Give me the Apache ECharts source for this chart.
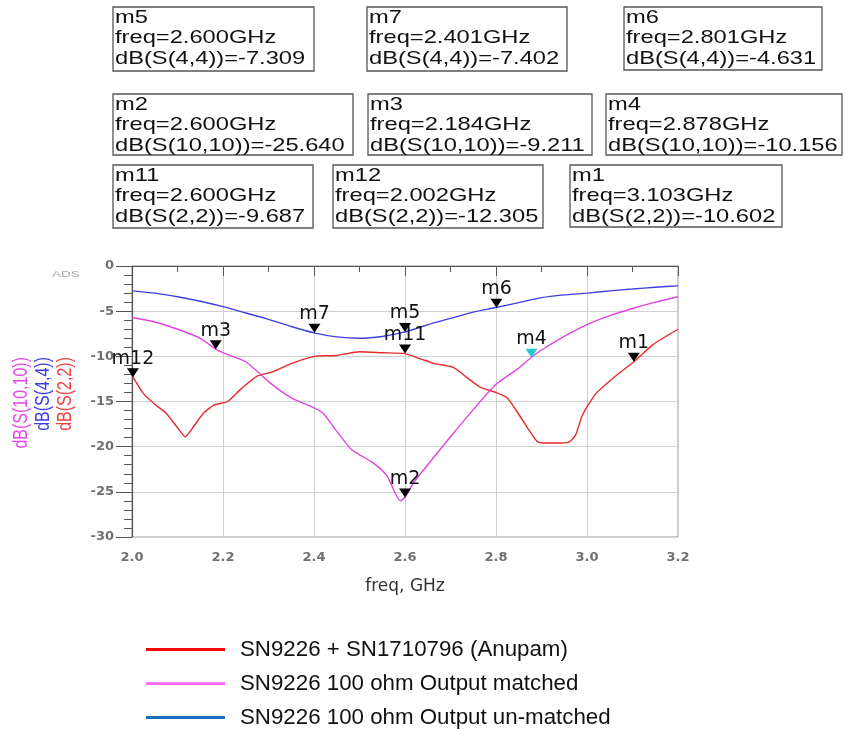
<!DOCTYPE html>
<html>
<head>
<meta charset="utf-8">
<script src="https://cdn.jsdelivr.net/npm/echarts@6/dist/echarts.min.js"></script>
<style>html,body{margin:0;padding:0;background:#fff;}#main{width:846px;height:731px;}</style>
</head>
<body>
<div id="main"></div>
<script>
// ---------- data ----------
const seriesNames = ['SN9226 + SN1710796 (Anupam)', 'SN9226 100 ohm Output matched', 'SN9226 100 ohm Output un-matched'];
const axisNames = ['dB(S(10,10))', 'dB(S(4,4))', 'dB(S(2,2))'];

// S(2,2) red
const s22Freq = [2.0,2.025,2.05,2.075,2.1,2.117,2.135,2.157,2.18,2.21,2.24,2.275,2.31,2.35,2.4,2.45,2.5,2.55,2.6,2.635,2.665,2.705,2.735,2.765,2.8,2.825,2.855,2.89,2.91,2.93,2.96,2.975,2.99,3.02,3.06,3.103,3.145,3.2];
const s22dB   = [-12.1,-14.1,-15.3,-16.3,-17.9,-18.9,-17.8,-16.3,-15.4,-15.0,-13.6,-12.2,-11.7,-10.8,-10.0,-9.9,-9.5,-9.6,-9.7,-10.3,-10.8,-11.2,-12.3,-13.4,-14.0,-14.6,-16.8,-19.4,-19.6,-19.6,-19.5,-18.7,-16.5,-14.1,-12.3,-10.6,-8.7,-7.0];

// S(10,10) magenta
const s1010Freq = [2.0,2.05,2.1,2.15,2.184,2.2,2.25,2.3,2.35,2.4,2.42,2.45,2.48,2.5,2.53,2.56,2.59,2.6,2.62,2.65,2.7,2.75,2.8,2.85,2.878,2.9,2.95,3.0,3.05,3.1,3.15,3.2];
const s1010dB   = [-5.7,-6.2,-7.0,-8.0,-9.2,-9.6,-10.6,-12.8,-14.6,-15.7,-16.3,-18.3,-20.2,-20.9,-21.8,-23.2,-26.0,-25.6,-23.9,-22.0,-18.9,-15.9,-13.1,-11.3,-10.1,-9.3,-7.8,-6.5,-5.5,-4.7,-4.0,-3.4];

// S(4,4) blue
const s44Freq = [2.0,2.05,2.1,2.15,2.2,2.25,2.3,2.35,2.4,2.45,2.5,2.55,2.6,2.65,2.7,2.75,2.8,2.85,2.9,2.95,3.0,3.05,3.1,3.15,3.2];
const s44dB   = [-2.75,-3.0,-3.4,-3.9,-4.5,-5.2,-5.9,-6.7,-7.4,-7.85,-8.0,-7.8,-7.3,-6.5,-5.8,-5.1,-4.6,-4.05,-3.5,-3.2,-3.0,-2.75,-2.55,-2.35,-2.2];

// markers
const markerNames  = ['m5','m7','m6','m2','m3','m4','m11','m12','m1'];
const markerFreqs  = [2.600,2.401,2.801,2.600,2.184,2.878,2.600,2.002,3.103];
const markerParams = ['S(4,4)','S(4,4)','S(4,4)','S(10,10)','S(10,10)','S(10,10)','S(2,2)','S(2,2)','S(2,2)'];
const markerValues = [-7.309,-7.402,-4.631,-25.640,-9.211,-10.156,-9.687,-12.305,-10.602];

// axis ticks
const xTicks = [2.0, 2.2, 2.4, 2.6, 2.8, 3.0, 3.2];
const yTicks = [0, -5, -10, -15, -20, -25, -30];

// ---------- styles / layout ----------
const lineColors = ['#e82a2a', '#e244e2', '#3f3fe0'];
const legendColors = ['#ff0000', '#ff70ff', '#1b6ec2'];
const boxLayout = [ // x, y, w, h
  [113,7,201,64],[367,7,200,64],[624,7,198,63],
  [113,94,240,61],[368,94,224,61],[606,94,236,61],
  [113,165,200,63],[333,165,210,63],[570,165,212,62]
];

function pairs(f, v) { return f.map((x, i) => [x, v[i]]); }
function markersFor(param) {
  const out = [];
  markerNames.forEach((n, i) => {
    if (markerParams[i] === param) {
      const d = { name: n, coord: [markerFreqs[i], markerValues[i]] };
      if (n === 'm4') d.itemStyle = { color: '#2ec8d0' };
      out.push(d);
    }
  });
  return out;
}
const markPointBase = {
  symbol: 'triangle', symbolRotate: 180, symbolSize: [12, 9], symbolOffset: [0, -4.5],
  silent: true,
  itemStyle: { color: '#000' },
  label: { show: true, position: 'top', distance: 0, formatter: '{b}', color: '#111',
           fontFamily: 'DejaVu Sans', fontSize: 19 }
};

const graphics = [];
markerNames.forEach((n, i) => {
  const [bx, by, bw, bh] = boxLayout[i];
  const txt = n + '\nfreq=' + markerFreqs[i].toFixed(3) + 'GHz\ndB(' + markerParams[i] + ')=' + markerValues[i].toFixed(3);
  graphics.push({ type: 'rect', shape: { x: bx, y: by, width: bw, height: bh },
                  style: { fill: 'none', stroke: '#555', lineWidth: 1.3 }, silent: true });
  graphics.push({ type: 'text', x: bx + 2, y: by + 0.5, scaleX: 1.28, silent: true,
                  style: { text: txt, fill: '#111', font: '18.5px "Liberation Sans"', lineHeight: 20.5,
                           textAlign: 'left', textVerticalAlign: 'top' } });
});
graphics.push({ type: 'text', x: 52, y: 275, scaleX: 1.5, silent: true,
  style: { text: 'ADS', fill: '#aaa', font: '9px "Liberation Sans"', textVerticalAlign: 'middle' } });
const axisNameColors = ['#e645e6', '#3a3ae6', '#f04040'];
const axisNameX = [21, 43, 65];
axisNames.forEach((t, i) => {
  graphics.push({ type: 'text', x: axisNameX[i], y: 357, rotation: Math.PI / 2, scaleY: 1.25, silent: true,
    style: { text: t, fill: axisNameColors[i], font: '16px "Liberation Sans"', textAlign: 'right', textVerticalAlign: 'middle' } });
});

const chart = echarts.init(document.getElementById('main'));
chart.setOption({
  animation: false,
  backgroundColor: '#fff',
  grid: { left: 132, top: 266, width: 546, height: 271, show: true, borderColor: '#999', borderWidth: 1 },
  xAxis: {
    type: 'value', min: xTicks[0], max: xTicks[xTicks.length - 1], interval: 0.2,
    name: 'freq, GHz', nameLocation: 'middle', nameGap: 41,
    nameTextStyle: { fontFamily: 'DejaVu Sans', fontSize: 17, color: '#333' },
    axisLine: { lineStyle: { color: '#555', width: 1.2 } },
    axisTick: { show: true, length: 10, lineStyle: { color: '#555' } },
    minorTick: { show: true, splitNumber: 2, length: 6, lineStyle: { color: '#555' } },
    splitLine: { show: true, lineStyle: { color: '#d0d0d0' } },
    axisLabel: { margin: 14, color: '#707070', fontFamily: 'DejaVu Sans', fontWeight: 'bold', fontSize: 13,
                 formatter: v => v.toFixed(1) }
  },
  yAxis: {
    type: 'value', min: yTicks[yTicks.length - 1], max: yTicks[0], interval: 5,
    axisLine: { show: true, lineStyle: { color: '#555', width: 1.2 } },
    axisTick: { show: true, length: 16, lineStyle: { color: '#555' } },
    minorTick: { show: true, splitNumber: 5, length: 8, lineStyle: { color: '#555' } },
    splitLine: { show: true, lineStyle: { color: '#d0d0d0' } },
    axisLabel: { margin: 18, color: '#707070', fontFamily: 'DejaVu Sans', fontWeight: 'bold', fontSize: 13 }
  },
  legend: {
    orient: 'vertical', left: 146, top: 638, padding: 0, height: 110,
    itemWidth: 79, itemHeight: 3, itemGap: 11, icon: 'rect',
    selectedMode: false,
    textStyle: { fontFamily: 'Liberation Sans', fontSize: 22.3, color: '#111', lineHeight: 23, padding: [0, 0, 0, 10] },
    data: seriesNames.map((n, i) => ({ name: n, itemStyle: { color: legendColors[i] } }))
  },
  series: [
    { name: seriesNames[0], type: 'line', data: pairs(s22Freq, s22dB), symbol: 'none', smooth: 0.2,
      lineStyle: { color: lineColors[0], width: 1.4 }, itemStyle: { color: lineColors[0] },
      markPoint: Object.assign({}, markPointBase, { data: markersFor('S(2,2)') }) },
    { name: seriesNames[1], type: 'line', data: pairs(s1010Freq, s1010dB), symbol: 'none', smooth: 0.2,
      lineStyle: { color: lineColors[1], width: 1.4 }, itemStyle: { color: lineColors[1] },
      markPoint: Object.assign({}, markPointBase, { data: markersFor('S(10,10)') }) },
    { name: seriesNames[2], type: 'line', data: pairs(s44Freq, s44dB), symbol: 'none', smooth: 0.2,
      lineStyle: { color: lineColors[2], width: 1.4 }, itemStyle: { color: lineColors[2] },
      markPoint: Object.assign({}, markPointBase, { data: markersFor('S(4,4)') }) }
  ],
  graphic: graphics
});
</script>
</body>
</html>
